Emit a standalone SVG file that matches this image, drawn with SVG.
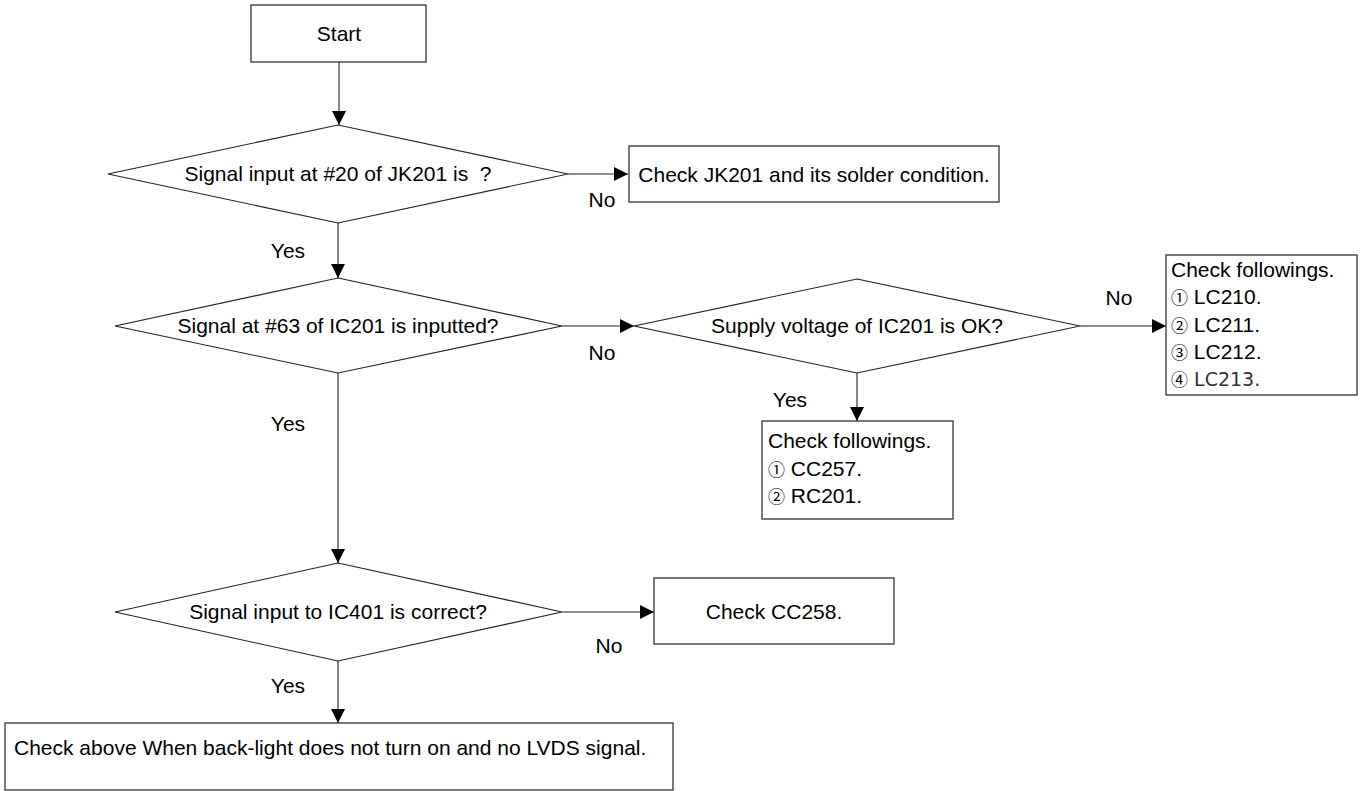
<svg xmlns="http://www.w3.org/2000/svg" width="1363" height="791" viewBox="0 0 1363 791">
<style>
.box{fill:#fff;stroke:#333;stroke-width:1.3}
.dia{fill:#fff;stroke:#222;stroke-width:1.1}
.ln{fill:none;stroke:#222;stroke-width:1.1}
text{font-family:"Liberation Sans",Arial,sans-serif;font-size:21px;fill:#000;white-space:pre}
.c{text-anchor:middle}
.num{font-family:"Noto Sans CJK KR","DejaVu Sans",sans-serif;font-size:17px}
.alt{font-family:"DejaVu Sans",sans-serif;font-size:19px;fill:#333}
</style>
<defs>
<marker id="ah" markerUnits="userSpaceOnUse" markerWidth="14" markerHeight="14" refX="14" refY="7" orient="auto" viewBox="0 0 14 14">
<path d="M0,0 L14,7 L0,14 z" fill="#000"/>
</marker>
</defs>
<rect width="1363" height="791" fill="#fff"/>
<g id="connectors">
<line class="ln" x1="339" y1="62" x2="339" y2="125" marker-end="url(#ah)"/>
<line class="ln" x1="568" y1="174" x2="628" y2="174" marker-end="url(#ah)"/>
<line class="ln" x1="338" y1="223" x2="338" y2="278" marker-end="url(#ah)"/>
<line class="ln" x1="562" y1="326" x2="634" y2="326" marker-end="url(#ah)"/>
<line class="ln" x1="1080" y1="326" x2="1166" y2="326" marker-end="url(#ah)"/>
<line class="ln" x1="857" y1="373" x2="857" y2="421" marker-end="url(#ah)"/>
<line class="ln" x1="338" y1="373" x2="338" y2="563" marker-end="url(#ah)"/>
<line class="ln" x1="562" y1="612" x2="654" y2="612" marker-end="url(#ah)"/>
<line class="ln" x1="338" y1="661" x2="338" y2="723" marker-end="url(#ah)"/>
<text class="c" x="602" y="207">No</text>
<text class="c" x="288" y="258">Yes</text>
<text class="c" x="602" y="360">No</text>
<text class="c" x="1119" y="305">No</text>
<text class="c" x="790" y="407">Yes</text>
<text class="c" x="288" y="431">Yes</text>
<text class="c" x="609" y="653">No</text>
<text class="c" x="288" y="693">Yes</text>
</g>
<g id="start">
<rect class="box" x="251" y="5" width="175" height="57"/>
<text class="c" x="339" y="41">Start</text>
</g>
<g id="d1">
<polygon class="dia" points="338,125 568,174 338,223 108,174"/>
<text class="c" x="338" y="181" xml:space="preserve">Signal input at #20 of JK201 is  ?</text>
</g>
<g id="jk201">
<rect class="box" x="629" y="146" width="370" height="56"/>
<text class="c" x="814" y="182">Check JK201 and its solder condition.</text>
</g>
<g id="d2">
<polygon class="dia" points="338,278 562,326 338,373 115,326"/>
<text class="c" x="338" y="333">Signal at #63 of IC201 is inputted?</text>
</g>
<g id="d3">
<polygon class="dia" points="857,279 1080,326 857,373 634,326"/>
<text class="c" x="857" y="333">Supply voltage of IC201 is OK?</text>
</g>
<g id="lcbox">
<rect class="box" x="1166" y="255" width="191" height="140"/>
<text x="1171" y="277">Check followings.</text>
<text x="1171" y="304"><tspan class="num">①</tspan> LC210.</text>
<text x="1171" y="332"><tspan class="num">②</tspan> LC211.</text>
<text x="1171" y="359"><tspan class="num">③</tspan> LC212.</text>
<text x="1171" y="386"><tspan class="num">④</tspan><tspan class="alt"> LC213.</tspan></text>
</g>
<g id="ccbox">
<rect class="box" x="762" y="421" width="191" height="98"/>
<text x="768" y="448">Check followings.</text>
<text x="768" y="476"><tspan class="num">①</tspan> CC257.</text>
<text x="768" y="503"><tspan class="num">②</tspan> RC201.</text>
</g>
<g id="d4">
<polygon class="dia" points="338,563 562,612 338,661 115,612"/>
<text class="c" x="338" y="619">Signal input to IC401 is correct?</text>
</g>
<g id="cc258">
<rect class="box" x="654" y="578" width="240" height="66"/>
<text class="c" x="774" y="619">Check CC258.</text>
</g>
<g id="final">
<rect class="box" x="5" y="723" width="668" height="67"/>
<text x="14" y="755">Check above When back-light does not turn on and no LVDS signal.</text>
</g>
</svg>
